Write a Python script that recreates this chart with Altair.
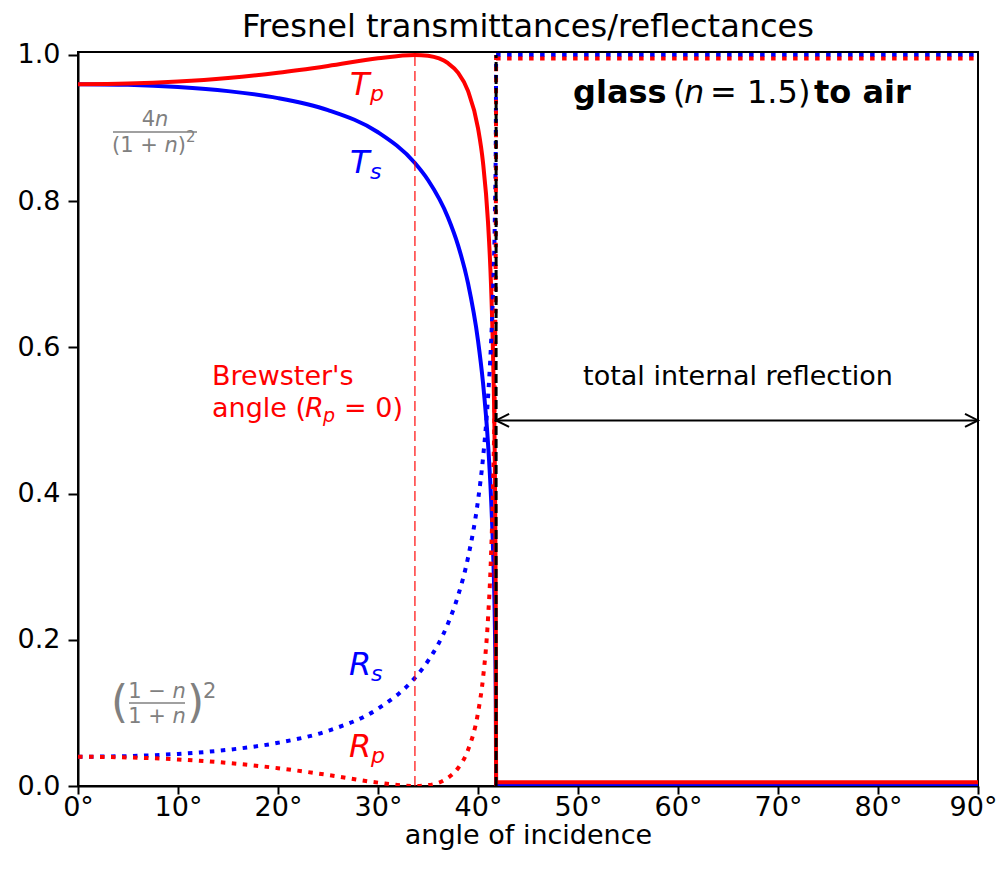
import altair as alt
import pandas as pd

FONT = "DejaVu Sans"
RED = "#ff0000"
BLUE = "#0000ff"
GRAY = "#808080"

# ---- data (glass n=1.5 to air) ----
angles = [0, 5, 10, 15, 20, 25, 30, 33.69, 35, 37, 38, 39, 40, 40.5, 41, 41.3, 41.5, 41.7, 41.78, 41.81]
Ts = [0.9600, 0.9591, 0.9561, 0.9505, 0.9409, 0.9245, 0.8942, 0.8521, 0.8289, 0.7777, 0.7399,
      0.6878, 0.6095, 0.5517, 0.4690, 0.3955, 0.3249, 0.2090, 0.1147, 0.0]
Tp = [0.9600, 0.9609, 0.9637, 0.9685, 0.9756, 0.9849, 0.9954, 1.0, 0.9988, 0.9887, 0.9757,
      0.9508, 0.8999, 0.8528, 0.7715, 0.6859, 0.5918, 0.4114, 0.2400, 0.0]
Rs = [0.0400, 0.0409, 0.0439, 0.0495, 0.0591, 0.0755, 0.1058, 0.1479, 0.1711, 0.2223, 0.2601,
      0.3122, 0.3905, 0.4483, 0.5310, 0.6045, 0.6751, 0.7910, 0.8853, 1.0]
Rp = [0.0400, 0.0391, 0.0363, 0.0315, 0.0244, 0.0151, 0.0046, 0.0, 0.0012, 0.0113, 0.0243,
      0.0492, 0.1001, 0.1472, 0.2285, 0.3141, 0.4082, 0.5886, 0.7600, 1.0]

tir_angles = [41.81, 90]
tir_Ts = [0.0, 0.0]
tir_Tp = [0.005, 0.005]
tir_Rs = [1.0, 1.0]
tir_Rp = [0.995, 0.995]

critical_angle = 41.81
brewster_angle = 33.69

x_ticks = [0, 10, 20, 30, 40, 50, 60, 70, 80, 90]
y_ticks = [0.0, 0.2, 0.4, 0.6, 0.8, 1.0]

TITLE = "Fresnel transmittances/reflectances"

curves = pd.DataFrame({"angle": angles, "Ts": Ts, "Tp": Tp, "Rs": Rs, "Rp": Rp})
tir = pd.DataFrame({"angle": tir_angles, "Ts": tir_Ts, "Tp": tir_Tp, "Rs": tir_Rs, "Rp": tir_Rp})

xscale = alt.Scale(domain=[0, 90], nice=False, zero=False)
yscale = alt.Scale(domain=[0, 1.004], nice=False, zero=False)
xaxis = alt.Axis(values=x_ticks, labelExpr="datum.value + '°'", title="angle of incidence",
                 labelFlush=False, tickSize=8, labelPadding=0, titlePadding=2,
                 labelOffset={"condition": {"test": "datum.value == 90", "value": -5}, "value": 0})
yaxis = alt.Axis(values=y_ticks, format=".1f", title=None, tickSize=10, labelPadding=8)


def X(field):
    return alt.X(field, type="quantitative", scale=xscale, axis=xaxis)


def Y(field):
    return alt.Y(field, type="quantitative", scale=yscale, axis=yaxis)


def curve(df, col, color, dash=None, interp="monotone"):
    kw = dict(color=color, strokeWidth=4, clip=True, interpolate=interp, strokeCap="butt")
    if dash:
        kw["strokeDash"] = dash
    return alt.Chart(df).mark_line(**kw).encode(x=X("angle"), y=Y(col))


DOT = [4.5, 6.5]
layers = [
    curve(curves, "Ts", BLUE),
    curve(curves, "Tp", RED),
    curve(curves, "Rs", BLUE, DOT),
    curve(curves, "Rp", RED, DOT),
    curve(tir, "Ts", BLUE, interp="linear"),
    curve(tir, "Tp", RED, interp="linear"),
    curve(tir, "Rs", BLUE, DOT, interp="linear"),
    curve(tir, "Rp", RED, DOT, interp="linear"),
]

# vertical guide lines
brew = pd.DataFrame({"x": [brewster_angle], "y": [0.0], "y2": [1.0]})
layers.append(alt.Chart(brew).mark_rule(color=RED, opacity=0.65, strokeWidth=1.8, strokeDash=[10, 5]).encode(
    x=X("x"), y=Y("y"), y2="y2"))
crit = pd.DataFrame({"x": [critical_angle], "y": [0.0], "y2": [1.0]})
layers.append(alt.Chart(crit).mark_rule(color="black", strokeWidth=3, strokeDash=[9, 4]).encode(
    x=X("x"), y=Y("y"), y2="y2"))

# TIR double arrow
arrow = pd.DataFrame({"x": [critical_angle], "x2": [90], "y": [0.5]})
layers.append(alt.Chart(arrow).mark_rule(color="black", strokeWidth=2).encode(x=X("x"), x2="x2", y=Y("y")))
heads = pd.DataFrame({"x": [critical_angle], "y": [0.5]})
headr = pd.DataFrame({"x": [90], "y": [0.5]})
layers.append(alt.Chart(heads).mark_point(shape="M1,-0.5L0,0L1,0.5", size=676, filled=False, strokeWidth=2,
                                          color="black", opacity=1).encode(x=X("x"), y=Y("y")))
layers.append(alt.Chart(headr).mark_point(shape="M-1,-0.5L0,0L-1,0.5", size=676, filled=False, strokeWidth=2,
                                          color="black", opacity=1).encode(x=X("x"), y=Y("y")))


def txt(x, y, text, size, color="black", style="normal", weight="normal", dx=0, dy=0, align="left",
        baseline="alphabetic"):
    df = pd.DataFrame({"x": [x], "y": [y]})
    return alt.Chart(df).mark_text(text=text, font=FONT, fontSize=size, color=color, fontStyle=style,
                                   fontWeight=weight, dx=dx, dy=dy, align=align, baseline=baseline).encode(
        x=X("x"), y=Y("y"))


# chart title (placed above the frame)
layers.append(txt(45, 1.004, TITLE, 32, "black", align="center", dy=-15))

# curve labels
layers += [
    txt(27.2, 0.9453, "T", 32, RED, "italic"), txt(27.2, 0.9453, "p", 22, RED, "italic", dx=20, dy=6),
    txt(27.2, 0.8386, "T", 32, BLUE, "italic"), txt(27.2, 0.8386, "s", 22, BLUE, "italic", dx=20, dy=6),
    txt(27.1, 0.1518, "R", 32, BLUE, "italic"), txt(27.1, 0.1518, "s", 22, BLUE, "italic", dx=22, dy=6),
    txt(27.1, 0.0397, "R", 32, RED, "italic"), txt(27.1, 0.0397, "p", 22, RED, "italic", dx=22, dy=6),
]

# normal-incidence formulas (gray)
layers += [
    txt(7.7, 0.9029, "4", 21, GRAY, align="right"),
    txt(7.7, 0.9029, "n", 21, GRAY, "italic"),
    txt(7.7, 0.8673, "(1 + ", 21, GRAY, dx=-43),
    txt(7.7, 0.8673, "n", 21, GRAY, "italic", dx=9.5),
    txt(7.7, 0.8673, ")", 21, GRAY, dx=22.8),
    txt(7.7, 0.8673, "2", 15, GRAY, dx=31, dy=-10),
    txt(7.9, 0.1204, "1 − ", 21, GRAY, dx=-28.8),
    txt(7.9, 0.1204, "n", 21, GRAY, "italic", dx=15.5),
    txt(7.9, 0.0862, "1 + ", 21, GRAY, dx=-28.8),
    txt(7.9, 0.0862, "n", 21, GRAY, "italic", dx=15.5),
    txt(7.9, 0.0944, "(", 44, GRAY, dx=-46),
    txt(7.9, 0.0944, ")", 44, GRAY, dx=30),
    txt(7.9, 0.1204, "2", 21, GRAY, dx=46),
]
fr1 = pd.DataFrame({"x": [3.5], "x2": [11.9], "y": [0.8947]})
fr2 = pd.DataFrame({"x": [5.1], "x2": [10.7], "y": [0.1135]})
for fr in (fr1, fr2):
    layers.append(alt.Chart(fr).mark_rule(color=GRAY, strokeWidth=1.5).encode(x=X("x"), x2="x2", y=Y("y")))

# Brewster annotation
layers += [
    txt(13.4, 0.5486, "Brewster's", 27, RED),
    txt(13.4, 0.5048, "angle (", 27, RED),
    txt(13.4, 0.5048, "R", 27, RED, "italic", dx=93),
    txt(13.4, 0.5048, "p", 19, RED, "italic", dx=111, dy=5),
    txt(13.4, 0.5048, "= 0)", 27, RED, dx=132),
]

# TIR annotation
layers.append(txt(66.0, 0.5486, "total internal reflection", 27, "black", align="center"))

# glass (n = 1.5) to air
layers += [
    txt(49.5, 0.9343, "glass", 32, "black", weight="bold"),
    txt(49.5, 0.9343, "(", 32, "black", dx=100),
    txt(49.5, 0.9343, "n", 32, "black", "italic", dx=111),
    txt(49.5, 0.9343, "= 1.5)", 32, "black", dx=137),
    txt(49.5, 0.9343, "to air", 32, "black", weight="bold", dx=241),
]

chart = alt.layer(*layers).properties(
    width=900, height=734,
    padding={"left": 70, "top": 44, "right": 20, "bottom": 75},
    autosize=alt.AutoSizeParams(type="none"),
).configure_view(stroke="black", strokeWidth=2).configure_axis(
    labelFont=FONT, labelFontSize=27, labelColor="black", titleFont=FONT, titleFontSize=27,
    titleFontWeight="normal", titleColor="black", domainColor="black", domainWidth=2, tickColor="black",
    tickWidth=2, grid=False,
)

chart.save("out.html", embed_options={"renderer": "svg", "actions": False})
